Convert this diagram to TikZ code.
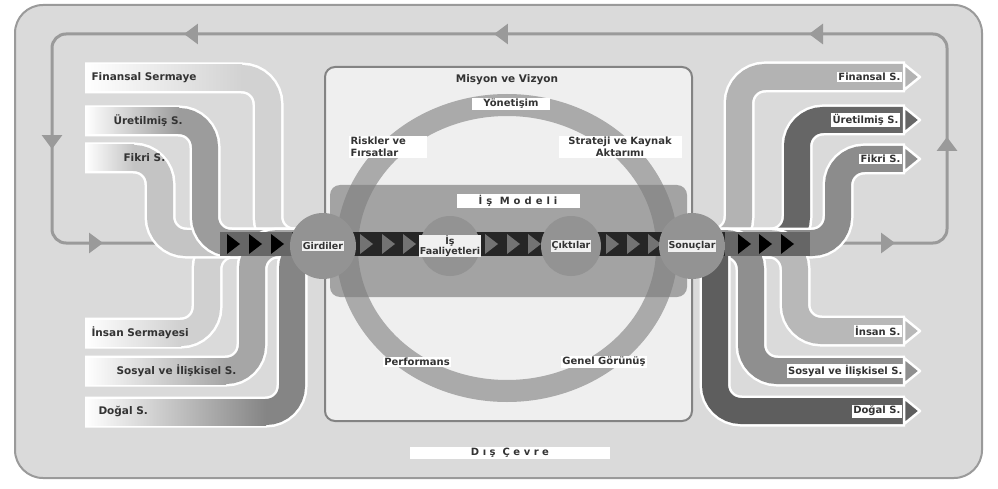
\documentclass[tikz,border=0pt]{standalone}
\usepackage{fontspec}
\setmainfont{DejaVu Sans}
\usetikzlibrary{arrows.meta}
\usetikzlibrary{decorations.markings}
\definecolor{panelgray}{HTML}{DADADA}
\definecolor{framegray}{HTML}{9A9A9A}
\definecolor{innergray}{HTML}{EFEFEF}
\definecolor{ringgray}{HTML}{AAAAAA}
\definecolor{modelgray}{HTML}{7D7D7D}
\definecolor{hubgray}{HTML}{939393}
\definecolor{finL}{HTML}{D2D2D2}
\definecolor{ureL}{HTML}{9C9C9C}
\definecolor{fikL}{HTML}{C4C4C4}
\definecolor{insL}{HTML}{D0D0D0}
\definecolor{sosL}{HTML}{A6A6A6}
\definecolor{dogL}{HTML}{858585}
\definecolor{finR}{HTML}{B3B3B3}
\definecolor{ureR}{HTML}{666666}
\definecolor{fikR}{HTML}{8C8C8C}
\definecolor{insR}{HTML}{B8B8B8}
\definecolor{sosR}{HTML}{8F8F8F}
\definecolor{dogR}{HTML}{5E5E5E}
\tikzset{>={Triangle[width=20pt,length=14pt]}}
\tikzset{loopline/.style={draw=framegray, line width=3pt, rounded corners=14pt,
  decoration={markings,
  mark=at position 184pt with {\arrow{>}},
  mark=at position 499pt with {\arrow{>}},
  mark=at position 809pt with {\arrow{>}},
  mark=at position 1050pt with {\arrow{>}},
  mark=at position 1189pt with {\arrow{>}},
  mark=at position 1981pt with {\arrow{>}},
  mark=at position 2133pt with {\arrow{>}}}, postaction={decorate}}}
\tikzset{flowedge/.style={draw=white, line width=31pt, rounded corners=26pt}}
\tikzset{flowfill/.style={draw=#1, line width=26pt, rounded corners=26pt}}
\tikzset{flowtip/.style={fill=#1, draw=white, line width=2.5pt, line join=round}}
\tikzset{wbox/.style={fill=white, text=black!80, inner sep=1.5pt, font=\fontsize{10}{12}\selectfont\bfseries}}
\tikzset{hub/.style={circle, fill=hubgray, inner sep=0pt}}
\tikzset{hublbl/.style={fill=white!88!gray, text=black!80, inner sep=1pt, font=\fontsize{9.5}{10}\selectfont\bfseries}}

\begin{document}
\begin{tikzpicture}[x=1pt, y=-1pt, font=\fontsize{10.5}{12}\selectfont\bfseries, text=black!80]
    \useasboundingbox (0,0) rectangle (998,489);
    \fill[white] (0,0) rectangle (998,489);
    \draw[framegray, line width=2pt, fill=panelgray, rounded corners=28pt] (15,5) rectangle (982,478);
    \coordinate (lpA) at (947,100);
    \coordinate (lpB) at (947,34);
    \coordinate (lpC) at (52,34);
    \coordinate (lpD) at (52,243);
    \coordinate (lpE) at (947,243);
    \draw[loopline] (lpA) -- (lpB) -- (lpC) -- (lpD) -- (lpE) -- cycle;
    \draw[framegray!85!black, line width=2pt, fill=innergray, rounded corners=10pt] (325,67) rectangle (692,421);
    \draw[ringgray, line width=22pt] (507,248) ellipse [x radius=160, y radius=143];
    \fill[modelgray, opacity=0.66, rounded corners=10pt] (330,185) rectangle (687,297);
    \foreach \y/\xt/\c in {78/268/finL, 333/207/insL, 158/160/fikL, 121/205/ureL, 371/252/sosL, 412/292/dogL} {
        \draw[flowedge] (85,\y) -- (\xt,\y) -- (\xt,243) -- (330,243);
        \draw[flowfill=\c] (85,\y) -- (\xt,\y) -- (\xt,243) -- (330,243);
        \shade[left color=white, right color=\c] (85,\y-13) rectangle (\xt-26,\y+13);
    }
    \foreach \y/\xt/\c in {77/739/finR, 120/797/ureR, 159/838/fikR, 331/795/insR, 371/751/sosR} {
        \draw[flowedge] (700,243) -- (\xt,243) -- (\xt,\y) -- (905,\y);
        \draw[flowfill=\c] (700,243) -- (\xt,243) -- (\xt,\y) -- (905,\y);
        \filldraw[flowtip=\c] (904,\y-13) -- (920,\y) -- (904,\y+13) -- cycle;
    }
    \draw[flowedge] (715,243) -- (715,411) -- (905,411);
    \draw[flowfill=dogR] (715,243) -- (715,411) -- (905,411);
    \filldraw[flowtip=dogR] (904,398) -- (920,411) -- (904,424) -- cycle;
    \coordinate (strL) at (220,232);
    \coordinate (strR) at (810,256);
    \fill[black!85] (strL) rectangle (strR);
    \fill[black!60] (220,232) rectangle (292,256);
    \fill[black!60] (725,232) rectangle (810,256);
    \foreach \x in {227,249,271,738,759,781}
        \fill[black] (\x,234) -- (\x+13,244) -- (\x,254) -- cycle;
    \foreach \x in {360,382,403,485,507,528,606,627,648}
        \fill[black!55] (\x,234) -- (\x+13,244) -- (\x,254) -- cycle;
    \node[hub, minimum size=66pt] (girdi) at (323,246) {};
    \node[hub, minimum size=60pt] (faal) at (450,246) {};
    \node[hub, minimum size=60pt] (cikti) at (571,246) {};
    \node[hub, minimum size=66pt] (sonuc) at (692,246) {};
    \node[hublbl] (girdiT) at (girdi) {Girdiler};
    \node[hublbl, align=center] (faalT) at (faal) {İş\\Faaliyetleri};
    \node[hublbl] (ciktiT) at (cikti) {Çıktılar};
    \node[hublbl] (sonucT) at (sonuc) {Sonuçlar};
    \node[anchor=west] (finIn) at (88,78) {Finansal Sermaye};
    \node[anchor=west] (ureIn) at (110,121) {Üretilmiş S.};
    \node[anchor=west] (fikIn) at (120,158) {Fikri S.};
    \node[anchor=west] (insIn) at (88,333) {İnsan Sermayesi};
    \node[anchor=west] (sosIn) at (113,371) {Sosyal ve İlişkisel S.};
    \node[anchor=west] (dogIn) at (95,412) {Doğal S.};
    \node[wbox, anchor=east] (finOut) at (902,77) {Finansal S.};
    \node[wbox, anchor=east] (ureOut) at (900,120) {Üretilmiş S.};
    \node[wbox, anchor=east] (fikOut) at (902,159) {Fikri S.};
    \node[wbox, anchor=east] (insOut) at (902,331) {İnsan S.};
    \node[wbox, anchor=east] (sosOut) at (904,371) {Sosyal ve İlişkisel S.};
    \node[wbox, anchor=east] (dogOut) at (902,411) {Doğal S.};
    \node (misyon) at (507,80) {Misyon ve Vizyon};
    \node[wbox, minimum width=78pt] (yonet) at (511,104) {Yönetişim};
    \node[wbox, align=left, text width=75pt] (risk) at (388,147) {Riskler ve\\Fırsatlar};
    \node[wbox, align=center, text width=120pt] (strat) at (620,147) {Strateji ve Kaynak\\Aktarımı};
    \node[wbox, minimum width=123pt] (model) at (518,201) {\addfontfeatures{LetterSpace=40}İş Modeli};
    \node[wbox] (perf) at (417,362) {Performans};
    \node[wbox] (genel) at (604,362) {Genel Görünüş};
    \node[wbox, minimum width=200pt] (cevre) at (510,453) {\addfontfeatures{LetterSpace=35}Dış Çevre};
\end{tikzpicture}
\end{document}
